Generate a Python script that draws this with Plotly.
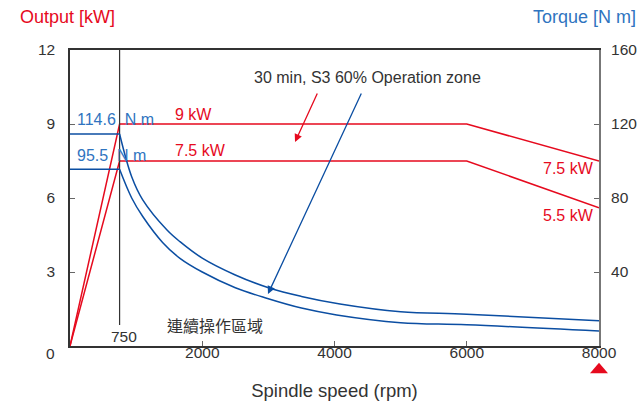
import plotly.graph_objects as go

# ---- data ----
speed_power = [0, 750, 6000, 8000]
power_s3 = [0, 9, 9, 7.5]          # 30 min, S3 60% (kW)
power_cont = [0, 7.5, 7.5, 5.6]    # continuous (kW)

speed_const_torque = [0, 750]
torque_s3_const = [114.6, 114.6]
torque_cont_const = [95.5, 95.5]

speed_torque_s3 = [750, 933, 1100, 1467, 1663, 2000, 2500, 3025, 3500, 4083, 5000, 6000, 8000]
torque_s3 = [114.6, 91.5, 79, 62.7, 56.4, 47.5, 38.4, 31.2, 26.8, 22.7, 18.5, 17.2, 13.7]

speed_torque_cont = [750, 933, 1100, 1400, 1663, 2000, 2500, 2974, 3500, 4033, 5000, 6000, 8000]
torque_cont = [95.5, 80, 70, 56, 47.4, 40, 31.5, 25.8, 20.5, 16.8, 12.6, 11.5, 8.1]

base_speed = 750
max_speed = 8000

x_ticks = [2000, 4000, 6000, 8000]
y_ticks = [0, 3, 6, 9, 12]
y2_ticks = [40, 80, 120, 160]

RED = "#e60a1e"
BLUE = "#0b4ea2"
LBLUE = "#2f74c0"
DARK = "#333333"
FONT = "Liberation Sans, Arial, sans-serif"
TICK = 15.5
LAB = 16

fig = go.Figure()

fig.add_trace(go.Scatter(x=speed_power, y=power_s3, mode="lines",
                         line=dict(color=RED, width=1.5), yaxis="y"))
fig.add_trace(go.Scatter(x=speed_power, y=power_cont, mode="lines",
                         line=dict(color=RED, width=1.5), yaxis="y"))

fig.add_trace(go.Scatter(x=speed_const_torque, y=torque_s3_const, mode="lines",
                         line=dict(color=BLUE, width=1.5), yaxis="y2"))
fig.add_trace(go.Scatter(x=speed_const_torque, y=torque_cont_const, mode="lines",
                         line=dict(color=BLUE, width=1.5), yaxis="y2"))
fig.add_trace(go.Scatter(x=speed_torque_s3, y=torque_s3, mode="lines",
                         line=dict(color=BLUE, width=1.5, shape="spline", smoothing=1.0),
                         yaxis="y2"))
fig.add_trace(go.Scatter(x=speed_torque_cont, y=torque_cont, mode="lines",
                         line=dict(color=BLUE, width=1.5, shape="spline", smoothing=1.0),
                         yaxis="y2"))

# base speed vertical line
fig.add_trace(go.Scatter(x=[base_speed, base_speed], y=[0.85, 12], mode="lines",
                         line=dict(color=DARK, width=1.2), yaxis="y"))

fig.update_layout(
    width=642, height=411,
    margin=dict(l=70, r=43, t=50, b=65),
    paper_bgcolor="white", plot_bgcolor="white",
    showlegend=False,
    font=dict(family=FONT, size=TICK, color=DARK),
    xaxis=dict(range=[0, 8000], tickvals=x_ticks, ticks="inside", ticklen=5,
               tickcolor="#666", showgrid=False, zeroline=False, automargin=False,
               showline=True, linecolor=DARK, linewidth=1.5, mirror=True,
               ticklabelstandoff=-8,
               tickfont=dict(size=TICK, color=DARK),
               title=dict(text="Spindle speed (rpm)", font=dict(size=18.5, color=DARK),
                          standoff=24)),
    yaxis=dict(range=[0, 12], tickvals=y_ticks[1:], ticks="inside", ticklen=5,
               tickcolor="#666", showgrid=False, zeroline=False, automargin=False,
               showline=True, linecolor=DARK, linewidth=1.5,
               ticklabelstandoff=10, tickfont=dict(size=TICK, color=DARK)),
    yaxis2=dict(range=[0, 160], tickvals=y2_ticks, ticks="inside", ticklen=5,
                tickcolor="#666", showgrid=False, zeroline=False, automargin=False,
                overlaying="y", side="right",
                showline=True, linecolor="#777", linewidth=2,
                ticklabelstandoff=7, tickfont=dict(size=TICK, color=DARK)),
)

# max-speed marker (red triangle under the 8000 tick)
xm = max_speed / 8000
fig.add_shape(type="path", xref="paper", yref="paper",
              path=f"M {xm - 0.017},{-0.092} L {xm + 0.017},{-0.092} L {xm},{-0.057} Z",
              fillcolor=RED, line=dict(width=0))

ann = []
ann.append(dict(xref="paper", yref="y", x=0, xshift=-13, y=y_ticks[0], yshift=-7,
                xanchor="right", yanchor="middle", text=str(y_ticks[0]), showarrow=False,
                font=dict(size=TICK, color=DARK)))
ann.append(dict(xref="paper", yref="paper", x=0, xshift=-52, y=1.0, yshift=33,
                xanchor="left", yanchor="middle", text="Output [kW]", showarrow=False,
                font=dict(size=18, color=RED)))
ann.append(dict(xref="paper", yref="paper", x=1.0, xshift=39, y=1.0, yshift=33,
                xanchor="right", yanchor="middle", text="Torque [N m]", showarrow=False,
                font=dict(size=18, color=LBLUE)))
ann.append(dict(xref="x", yref="y2", x=70, y=114.6, yshift=14, xanchor="left",
                yanchor="middle", text="114.6&nbsp;&nbsp;N m", showarrow=False,
                font=dict(size=LAB, color=LBLUE)))
ann.append(dict(xref="x", yref="y2", x=70, y=95.5, yshift=14, xanchor="left",
                yanchor="middle", text="95.5&nbsp;&nbsp;N m", showarrow=False,
                font=dict(size=LAB, color=LBLUE)))
ann.append(dict(xref="x", yref="y", x=1560, y=9, yshift=10, xanchor="left",
                yanchor="middle", text="9 kW", showarrow=False,
                font=dict(size=LAB, color=RED)))
ann.append(dict(xref="x", yref="y", x=1560, y=7.5, yshift=11, xanchor="left",
                yanchor="middle", text="7.5 kW", showarrow=False,
                font=dict(size=LAB, color=RED)))
ann.append(dict(xref="x", yref="y", x=7950, y=7.5, yshift=-7, xanchor="right",
                yanchor="middle", text="7.5 kW", showarrow=False,
                font=dict(size=LAB, color=RED)))
ann.append(dict(xref="x", yref="y", x=7950, y=5.6, yshift=-8, xanchor="right",
                yanchor="middle", text="5.5 kW", showarrow=False,
                font=dict(size=LAB, color=RED)))
ann.append(dict(xref="x", yref="y", x=4499, y=10.9, xanchor="center",
                yanchor="middle", text="30 min, S3 60% Operation zone", showarrow=False,
                font=dict(size=LAB, color=DARK)))
ann.append(dict(xref="x", yref="y", x=3403, y=8.27, axref="x", ayref="y",
                ax=3750, ay=10.3, text="", showarrow=True, arrowhead=2,
                arrowsize=1.2, arrowwidth=1.3, arrowcolor=RED))
ann.append(dict(xref="x", yref="y", x=2994, y=2.11, axref="x", ayref="y",
                ax=4416, ay=10.3, text="", showarrow=True, arrowhead=2,
                arrowsize=1.2, arrowwidth=1.3, arrowcolor=BLUE))
ann.append(dict(xref="x", yref="y", x=2200, y=0.85, xanchor="center",
                yanchor="middle", text="連續操作區域", showarrow=False,
                font=dict(size=LAB, color=DARK,
                          family="Noto Sans CJK TC, Noto Sans CJK SC, sans-serif")))
ann.append(dict(xref="x", yref="y", x=base_speed + 70, y=0.4, xanchor="center",
                yanchor="middle", text="750", showarrow=False,
                font=dict(size=TICK, color=DARK)))
fig.update_layout(annotations=ann)

fig.write_html("out.html", config={"displayModeBar": False})

# remove default page margin so the figure sits at the window's top-left corner
with open("out.html", "r", encoding="utf-8") as f:
    html = f.read()
html = html.replace("<head>", "<head><style>html,body{margin:0;padding:0;overflow:hidden}</style>", 1)
with open("out.html", "w", encoding="utf-8") as f:
    f.write(html)
